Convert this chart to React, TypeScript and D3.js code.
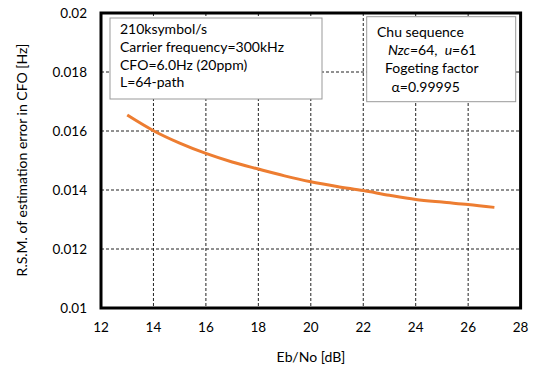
import React from "react";
import * as d3 from "d3";

const ebno = [13, 14, 15, 16, 17, 18, 19, 20, 21, 22, 23, 24, 25, 26, 27];
const rsm = [0.01654, 0.01601, 0.01559, 0.01524, 0.01495, 0.01471, 0.01448, 0.01428, 0.01412, 0.01398, 0.01382, 0.01368, 0.01359, 0.01351, 0.01341];
const xTicks = [12, 14, 16, 18, 20, 22, 24, 26, 28];
const yTicks = [0.01, 0.012, 0.014, 0.016, 0.018, 0.02];
const box1Lines = ["210ksymbol/s", "Carrier frequency=300kHz", "CFO=6.0Hz (20ppm)", "L=64-path"];

export default function App() {
  const W = 537, H = 370;
  const L = 101, R = 520.6, T = 13, B = 308;
  const x = d3.scaleLinear().domain([12, 28]).range([L, R]);
  const y = d3.scaleLinear().domain([0.01, 0.02]).range([B, T]);
  const line = d3.line<number>().x((_, i) => x(ebno[i])).y((d) => y(d)).curve(d3.curveMonotoneX);
  const font = "Lato, 'Open Sans', sans-serif";
  return (
    <svg width={W} height={H} style={{ position: "absolute", left: 0, top: 0 }} fontFamily={font}>
      <rect x={0} y={0} width={W} height={H} fill="#fff" />
      {xTicks.slice(1, -1).map((t) => (
        <line key={"gx" + t} x1={x(t)} x2={x(t)} y1={T} y2={B} stroke="#222" strokeWidth={1} strokeDasharray="3,2" />
      ))}
      {yTicks.slice(1, -1).map((t) => (
        <line key={"gy" + t} x1={L} x2={R} y1={y(t)} y2={y(t)} stroke="#222" strokeWidth={1} strokeDasharray="3,2" />
      ))}
      <path d={line(rsm) || ""} fill="none" stroke="#ED7D31" strokeWidth={3} />
      <rect x={L} y={T} width={R - L} height={B - T} fill="none" stroke="#000" strokeWidth={3} />
      {xTicks.map((t) => (
        <text key={"tx" + t} x={x(t)} y={332} textAnchor="middle" fontSize={13.5} fill="#000">{t}</text>
      ))}
      {yTicks.map((t) => (
        <text key={"ty" + t} x={87} y={y(t) + 4.5} textAnchor="end" fontSize={13.5} fill="#000">{String(t)}</text>
      ))}
      <text x={311} y={362} textAnchor="middle" fontSize={14} fill="#000">Eb/No [dB]</text>
      <text transform={`translate(27,160) rotate(-90)`} textAnchor="middle" fontSize={14} fill="#000">R.S.M. of estimation error in CFO [Hz]</text>
      <rect x={110} y={18} width={212} height={81} fill="#fff" stroke="#999" strokeWidth={1} />
      {box1Lines.map((s, i) => (
        <text key={"b1" + i} x={120} y={34 + i * 17.8} fontSize={14} fill="#000">{s}</text>
      ))}
      <rect x={366.7} y={16.7} width={149} height={85} fill="#fff" stroke="#999" strokeWidth={1} />
      <text x={377} y={37} fontSize={14} fill="#000">Chu sequence</text>
      <text x={388} y={55} fontSize={14} fill="#000" style={{ whiteSpace: "pre" }}><tspan fontStyle="italic">Nzc</tspan>=64,  <tspan fontStyle="italic">u</tspan>=61</text>
      <text x={385} y={73} fontSize={14} fill="#000">Fogeting factor</text>
      <text x={391.5} y={91.5} fontSize={14} fill="#000">α=0.99995</text>
    </svg>
  );
}
